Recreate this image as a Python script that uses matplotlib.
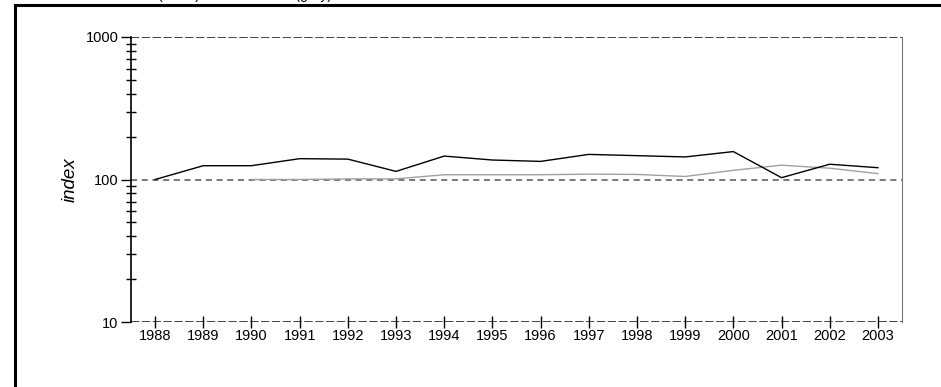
import numpy as np
import matplotlib
matplotlib.use('Agg')
import matplotlib.pyplot as plt
from matplotlib.lines import Line2D
from matplotlib.ticker import LogLocator, FixedLocator, NullFormatter

plt.rcParams['font.family'] = ['Liberation Sans', 'DejaVu Sans']

# data
years = list(range(1988, 2004))
black_idx = [100, 125, 125, 140, 139, 114, 146, 137, 134, 150, 147, 144, 157, 103, 128, 121]
grey_years = list(range(1990, 2004))
grey_idx = [100, 100, 101, 101, 108, 108, 108, 109, 108.5, 105, 116, 126, 120, 110]

fig = plt.figure(figsize=(9.41, 3.87), dpi=100)
ax = fig.add_axes([131 / 941, 1 - 322 / 387, (902 - 131) / 941, (322 - 37) / 387])

ax.set_yscale('log')
ax.set_ylim(10, 1000)
ax.set_xlim(1987.5, 2003.5)

# dashed reference lines at the decades
ax.axhline(100, color='#555555', lw=1.1, ls=(0, (4, 3)), zorder=1)
for v in [10, 1000]:
    ax.axhline(v, color='#222222', lw=1.2, ls=(0, (5, 1.5)), zorder=1)

ax.plot(grey_years, grey_idx, color='#a0a0a0', lw=1.0, zorder=2)
ax.plot(years, black_idx, color='black', lw=1.0, zorder=3)

ax.set_xticks(years)
ax.set_xticklabels([str(y) for y in years], fontsize=10.5)
ax.yaxis.set_major_locator(FixedLocator([10, 100, 1000]))
ax.set_yticklabels(['10', '100', '1000'], fontsize=10.5)
ax.yaxis.set_minor_locator(LogLocator(base=10, subs=np.arange(2, 10)))
ax.yaxis.set_minor_formatter(NullFormatter())

ax.tick_params(axis='x', direction='inout', length=8, width=1, pad=1)
ax.tick_params(axis='y', which='major', direction='out', length=7, width=1, pad=2)
ax.tick_params(axis='y', which='minor', direction='inout', length=7, width=1)

ax.spines['top'].set_visible(False)
ax.spines['bottom'].set_visible(False)
ax.spines['left'].set_linewidth(1.2)
ax.spines['right'].set_color('#777777')

ax.set_ylabel('index', fontsize=13.5, style='italic', labelpad=5)

# outer frame (left and top only) and the title line, clipped by the top edge
fig.add_artist(Line2D([15 / 941, 15 / 941], [0, 1 - 5 / 387], color='black', lw=2.2))
fig.add_artist(Line2D([15 / 941, 1], [1 - 5 / 387, 1 - 5 / 387], color='black', lw=2.2))
fig.text(120 / 941, 1 + 1 / 387, 'Index (black) and real index (grey)', fontsize=10,
         va='baseline', ha='left')

fig.savefig('out.png', dpi=100)
